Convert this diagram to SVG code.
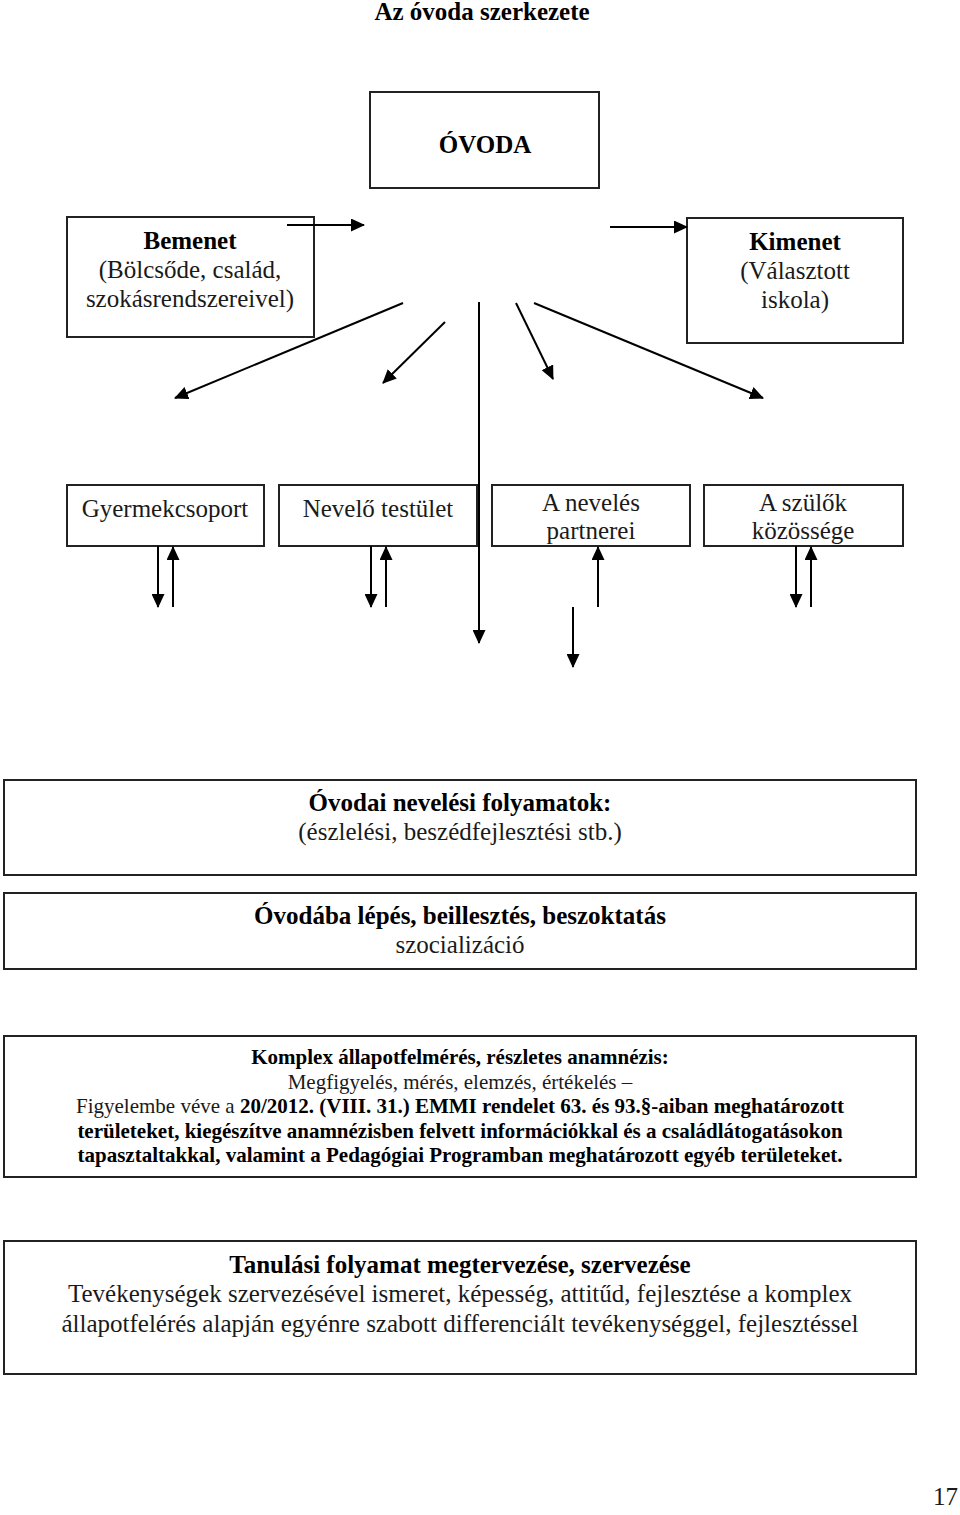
<svg xmlns="http://www.w3.org/2000/svg" width="960" height="1515" viewBox="0 0 960 1515">
<style>
  text { font-family: "Liberation Serif", "Times New Roman", serif; font-size: 25px; fill: #1a1a1a; text-anchor: middle; }
  .b { font-weight: bold; fill: #000; }
  .s { font-size: 21px; }
  .box { fill: #fff; stroke: #222; stroke-width: 2; }
  .con line { stroke: #000; stroke-width: 2; fill: none; marker-end: url(#ah); }
</style>
<defs>
  <marker id="ah" viewBox="0 0 14 13" refX="13" refY="6.5" markerWidth="14" markerHeight="13" markerUnits="userSpaceOnUse" orient="auto">
    <path d="M0,0 L14,6.5 L0,13 z" fill="#000"/>
  </marker>
</defs>
<rect width="960" height="1515" fill="#fff"/>

<text id="title" class="b" x="482" y="20">Az óvoda szerkezete</text>

<g id="ovoda">
  <rect class="box" x="370" y="92" width="229" height="96"/>
  <text class="b" x="485" y="153">ÓVODA</text>
</g>
<g id="bemenet">
  <rect class="box" x="67" y="217" width="247" height="120"/>
  <text class="b" x="190" y="249">Bemenet</text>
  <text x="190" y="278">(Bölcsőde, család,</text>
  <text x="190" y="307">szokásrendszereivel)</text>
</g>
<g id="kimenet">
  <rect class="box" x="687" y="218" width="216" height="125"/>
  <text class="b" x="795" y="250">Kimenet</text>
  <text x="795" y="279">(Választott</text>
  <text x="795" y="308">iskola)</text>
</g>

<g id="gyermekcsoport">
  <rect class="box" x="67" y="485" width="197" height="61"/>
  <text x="165" y="517">Gyermekcsoport</text>
</g>
<g id="nevelo">
  <rect class="box" x="279" y="485" width="198" height="61"/>
  <text x="378" y="517">Nevelő testület</text>
</g>
<g id="partnerei">
  <rect class="box" x="492" y="485" width="198" height="61"/>
  <text x="591" y="511">A nevelés</text>
  <text x="591" y="539">partnerei</text>
</g>
<g id="szulok">
  <rect class="box" x="704" y="485" width="199" height="61"/>
  <text x="803" y="511">A szülők</text>
  <text x="803" y="539">közössége</text>
</g>

<g id="folyamatok">
  <rect class="box" x="4" y="780" width="912" height="95"/>
  <text class="b" x="460" y="811">Óvodai nevelési folyamatok:</text>
  <text x="460" y="840">(észlelési, beszédfejlesztési stb.)</text>
</g>
<g id="ovodaba">
  <rect class="box" x="4" y="893" width="912" height="76"/>
  <text class="b" x="460" y="924">Óvodába lépés, beillesztés, beszoktatás</text>
  <text x="460" y="953">szocializáció</text>
</g>
<g id="komplex">
  <rect class="box" x="4" y="1036" width="912" height="141"/>
  <text class="s b" x="460" y="1064">Komplex állapotfelmérés, részletes anamnézis:</text>
  <text class="s" x="460" y="1089">Megfigyelés, mérés, elemzés, értékelés –</text>
  <text class="s" x="460" y="1113">Figyelembe véve a <tspan class="b">20/2012. (VIII. 31.) EMMI rendelet 63. és 93.§-aiban meghatározott</tspan></text>
  <text class="s b" x="460" y="1138">területeket, kiegészítve anamnézisben felvett információkkal és a családlátogatásokon</text>
  <text class="s b" x="460" y="1162">tapasztaltakkal, valamint a Pedagógiai Programban meghatározott egyéb területeket.</text>
</g>
<g id="tanulasi">
  <rect class="box" x="4" y="1241" width="912" height="133"/>
  <text class="b" x="460" y="1273">Tanulási folyamat megtervezése, szervezése</text>
  <text x="460" y="1302">Tevékenységek szervezésével ismeret, képesség, attitűd, fejlesztése a komplex</text>
  <text x="460" y="1332">állapotfelérés alapján egyénre szabott differenciált tevékenységgel, fejlesztéssel</text>
</g>

<text id="page" x="958" y="1505" style="text-anchor:end">17</text>

<g id="connectors" class="con">
  <line x1="287" y1="225" x2="364" y2="225"/>
  <line x1="610" y1="227" x2="687" y2="227"/>
  <line x1="403" y1="303" x2="175" y2="398"/>
  <line x1="445" y1="322" x2="383" y2="383"/>
  <line x1="479" y1="302" x2="479" y2="643"/>
  <line x1="516" y1="303" x2="553" y2="379"/>
  <line x1="534" y1="303" x2="763" y2="398"/>
  <line x1="158" y1="546" x2="158" y2="607"/>
  <line x1="173" y1="607" x2="173" y2="547"/>
  <line x1="371" y1="546" x2="371" y2="607"/>
  <line x1="386" y1="607" x2="386" y2="547"/>
  <line x1="598" y1="607" x2="598" y2="547"/>
  <line x1="573" y1="607" x2="573" y2="667"/>
  <line x1="796" y1="546" x2="796" y2="607"/>
  <line x1="811" y1="607" x2="811" y2="547"/>
</g>
</svg>
